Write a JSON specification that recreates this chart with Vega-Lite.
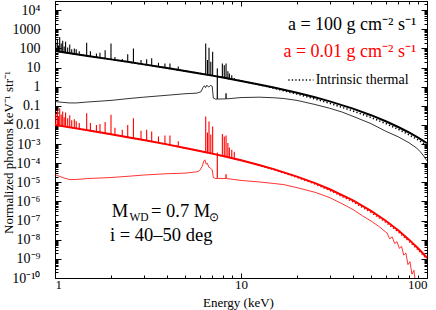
{
  "$schema": "https://vega.github.io/schema/vega-lite/v6.json",
  "width": 372,
  "height": 277,
  "autosize": {"type": "none"},
  "padding": {"left": 55, "top": 1, "right": 9, "bottom": 32},
  "background": "white",
  "config": {
    "view": {"stroke": null},
    "font": "Liberation Serif",
    "axis": {"domainColor": "black", "tickColor": "black", "labelColor": "black", "titleColor": "black", "labelFont": "Liberation Serif", "titleFont": "Liberation Serif", "titleFontWeight": "normal", "grid": false, "domainWidth": 1, "tickWidth": 1}
  },
  "datasets": {
    "cont": [
      {"E":1,"f":72.4,"s":"bt"},{"E":1.25,"f":52.7,"s":"bt"},{"E":1.5,"f":40.6,"s":"bt"},{"E":2,"f":26.7,"s":"bt"},{"E":2.5,"f":19.2,"s":"bt"},{"E":3,"f":14.6,"s":"bt"},{"E":4,"f":9.38,"s":"bt"},{"E":5,"f":6.59,"s":"bt"},{"E":6,"f":4.90,"s":"bt"},{"E":7,"f":3.78,"s":"bt"},{"E":8,"f":3.00,"s":"bt"},{"E":10,"f":2.00,"s":"bt"},{"E":12.5,"f":1.31,"s":"bt"},{"E":15,"f":0.906,"s":"bt"},{"E":20,"f":0.480,"s":"bt"},{"E":25,"f":0.278,"s":"bt"},{"E":30,"f":0.170,"s":"bt"},{"E":40,"f":0.0710,"s":"bt"},{"E":50,"f":0.0323,"s":"bt"},{"E":60,"f":0.0156,"s":"bt"},{"E":70,"f":0.0078,"s":"bt"},{"E":80,"f":0.00402,"s":"bt"},{"E":90,"f":0.00211,"s":"bt"},{"E":100,"f":0.00113,"s":"bt"},
      {"E":1,"f":72.4,"s":"bd"},{"E":1.25,"f":52.7,"s":"bd"},{"E":1.5,"f":40.6,"s":"bd"},{"E":2,"f":26.7,"s":"bd"},{"E":2.5,"f":19.2,"s":"bd"},{"E":3,"f":14.6,"s":"bd"},{"E":4,"f":9.38,"s":"bd"},{"E":5,"f":6.59,"s":"bd"},{"E":6,"f":4.90,"s":"bd"},{"E":7,"f":3.78,"s":"bd"},{"E":8,"f":3.00,"s":"bd"},{"E":10,"f":2.00,"s":"bd"},{"E":12.5,"f":1.25,"s":"bd"},{"E":15,"f":0.826,"s":"bd"},{"E":20,"f":0.408,"s":"bd"},{"E":25,"f":0.226,"s":"bd"},{"E":30,"f":0.135,"s":"bd"},{"E":40,"f":0.0538,"s":"bd"},{"E":50,"f":0.0245,"s":"bd"},{"E":60,"f":0.0118,"s":"bd"},{"E":70,"f":0.00592,"s":"bd"},{"E":80,"f":0.00305,"s":"bd"},{"E":90,"f":0.00160,"s":"bd"},{"E":100,"f":0.000857,"s":"bd"},
      {"E":1,"f":0.166,"s":"bn"},{"E":1.1,"f":0.151,"s":"bn"},{"E":1.2,"f":0.141,"s":"bn"},{"E":1.3,"f":0.141,"s":"bn"},{"E":1.5,"f":0.158,"s":"bn"},{"E":2,"f":0.191,"s":"bn"},{"E":2.5,"f":0.240,"s":"bn"},{"E":3,"f":0.282,"s":"bn"},{"E":4,"f":0.355,"s":"bn"},{"E":5,"f":0.427,"s":"bn"},{"E":5.8,"f":0.46,"s":"bn"},{"E":6.1,"f":0.55,"s":"bn"},{"E":6.25,"f":0.90,"s":"bn"},{"E":6.35,"f":1.12,"s":"bn"},{"E":6.45,"f":0.891,"s":"bn"},{"E":6.55,"f":1.20,"s":"bn"},{"E":6.7,"f":0.955,"s":"bn"},{"E":6.85,"f":1.15,"s":"bn"},{"E":7.0,"f":1.05,"s":"bn"},{"E":7.1,"f":0.251,"s":"bn"},{"E":7.3,"f":0.224,"s":"bn"},{"E":7.44,"f":0.224,"s":"bn"},{"E":7.46,"f":8.91,"s":"bn"},{"E":7.48,"f":0.224,"s":"bn"},{"E":8.0,"f":0.229,"s":"bn"},{"E":8.28,"f":0.229,"s":"bn"},{"E":8.31,"f":0.447,"s":"bn"},{"E":8.34,"f":0.229,"s":"bn"},{"E":10,"f":0.269,"s":"bn"},{"E":12.5,"f":0.282,"s":"bn"},{"E":15,"f":0.263,"s":"bn"},{"E":17,"f":0.240,"s":"bn"},{"E":20,"f":0.191,"s":"bn"},{"E":25,"f":0.117,"s":"bn"},{"E":30,"f":0.0741,"s":"bn"},{"E":35,"f":0.0468,"s":"bn"},{"E":40,"f":0.0282,"s":"bn"},{"E":50,"f":0.0117,"s":"bn"},{"E":60,"f":0.00468,"s":"bn"},{"E":70,"f":0.00240,"s":"bn"},{"E":80,"f":0.00117,"s":"bn"},{"E":88,"f":0.000617,"s":"bn"},{"E":92,"f":0.000398,"s":"bn"},{"E":96,"f":0.000240,"s":"bn"},{"E":100,"f":0.000132,"s":"bn"},
      {"E":1,"f":1.00e-2,"s":"rt"},{"E":1.25,"f":7.01e-3,"s":"rt"},{"E":1.5,"f":5.22e-3,"s":"rt"},{"E":2,"f":3.24e-3,"s":"rt"},{"E":2.5,"f":2.22e-3,"s":"rt"},{"E":3,"f":1.62e-3,"s":"rt"},{"E":4,"f":9.62e-4,"s":"rt"},{"E":5,"f":6.28e-4,"s":"rt"},{"E":6,"f":4.37e-4,"s":"rt"},{"E":7,"f":3.17e-4,"s":"rt"},{"E":8,"f":2.37e-4,"s":"rt"},{"E":10,"f":1.41e-4,"s":"rt"},{"E":12.5,"f":8.05e-5,"s":"rt"},{"E":15,"f":4.88e-5,"s":"rt"},{"E":20,"f":2.00e-5,"s":"rt"},{"E":25,"f":9.06e-6,"s":"rt"},{"E":30,"f":4.36e-6,"s":"rt"},{"E":40,"f":1.13e-6,"s":"rt"},{"E":50,"f":3.22e-7,"s":"rt"},{"E":60,"f":9.77e-8,"s":"rt"},{"E":70,"f":3.10e-8,"s":"rt"},{"E":80,"f":1.01e-8,"s":"rt"},{"E":90,"f":3.37e-9,"s":"rt"},{"E":100,"f":1.15e-9,"s":"rt"},
      {"E":1,"f":1.00e-2,"s":"rd"},{"E":1.25,"f":7.01e-3,"s":"rd"},{"E":1.5,"f":5.22e-3,"s":"rd"},{"E":2,"f":3.24e-3,"s":"rd"},{"E":2.5,"f":2.22e-3,"s":"rd"},{"E":3,"f":1.62e-3,"s":"rd"},{"E":4,"f":9.62e-4,"s":"rd"},{"E":5,"f":6.28e-4,"s":"rd"},{"E":6,"f":4.37e-4,"s":"rd"},{"E":7,"f":3.17e-4,"s":"rd"},{"E":8,"f":2.37e-4,"s":"rd"},{"E":10,"f":1.41e-4,"s":"rd"},{"E":12.5,"f":7.76e-5,"s":"rd"},{"E":15,"f":4.57e-5,"s":"rd"},{"E":20,"f":1.82e-5,"s":"rd"},{"E":25,"f":8.13e-6,"s":"rd"},{"E":30,"f":3.80e-6,"s":"rd"},{"E":40,"f":9.55e-7,"s":"rd"},{"E":50,"f":2.69e-7,"s":"rd"},{"E":60,"f":8.13e-8,"s":"rd"},{"E":70,"f":2.57e-8,"s":"rd"},{"E":80,"f":8.32e-9,"s":"rd"},{"E":90,"f":2.82e-9,"s":"rd"},{"E":100,"f":9.55e-10,"s":"rd"},
      {"E":1,"f":2.51e-5,"s":"rn"},{"E":1.1,"f":1.78e-5,"s":"rn"},{"E":1.2,"f":1.38e-5,"s":"rn"},{"E":1.3,"f":1.41e-5,"s":"rn"},{"E":1.5,"f":1.58e-5,"s":"rn"},{"E":2,"f":1.78e-5,"s":"rn"},{"E":2.5,"f":2.09e-5,"s":"rn"},{"E":3,"f":2.40e-5,"s":"rn"},{"E":4,"f":2.82e-5,"s":"rn"},{"E":5,"f":3.02e-5,"s":"rn"},{"E":5.8,"f":3.55e-5,"s":"rn"},{"E":6.0,"f":4.17e-5,"s":"rn"},{"E":6.2,"f":7.08e-5,"s":"rn"},{"E":6.3,"f":1.26e-4,"s":"rn"},{"E":6.4,"f":1.51e-4,"s":"rn"},{"E":6.5,"f":8.91e-5,"s":"rn"},{"E":6.6,"f":1.00e-4,"s":"rn"},{"E":6.7,"f":6.31e-5,"s":"rn"},{"E":6.85,"f":5.62e-5,"s":"rn"},{"E":7.0,"f":4.47e-5,"s":"rn"},{"E":7.1,"f":1.78e-5,"s":"rn"},{"E":7.3,"f":1.58e-5,"s":"rn"},{"E":7.44,"f":1.58e-5,"s":"rn"},{"E":7.46,"f":3.55e-4,"s":"rn"},{"E":7.48,"f":1.58e-5,"s":"rn"},{"E":8.0,"f":1.58e-5,"s":"rn"},{"E":8.28,"f":1.58e-5,"s":"rn"},{"E":8.31,"f":2.63e-5,"s":"rn"},{"E":8.34,"f":1.58e-5,"s":"rn"},{"E":10,"f":1.26e-5,"s":"rn"},{"E":12.5,"f":1.05e-5,"s":"rn"},{"E":15,"f":8.71e-6,"s":"rn"},{"E":17,"f":7.59e-6,"s":"rn"},{"E":20,"f":5.25e-6,"s":"rn"},{"E":25,"f":3.02e-6,"s":"rn"},{"E":30,"f":1.58e-6,"s":"rn"},{"E":35,"f":7.59e-7,"s":"rn"},{"E":40,"f":3.80e-7,"s":"rn"},{"E":45,"f":1.78e-7,"s":"rn"},{"E":50,"f":9.55e-8,"s":"rn"},{"E":55,"f":5.01e-8,"s":"rn"},{"E":58,"f":3.31e-8,"s":"rn"},{"E":61,"f":2.24e-8,"s":"rn"},{"E":63,"f":1.12e-8,"s":"rn"},{"E":65,"f":1.41e-8,"s":"rn"},{"E":67,"f":6.31e-9,"s":"rn"},{"E":69,"f":7.94e-9,"s":"rn"},{"E":71,"f":3.55e-9,"s":"rn"},{"E":73,"f":4.47e-9,"s":"rn"},{"E":75,"f":1.58e-9,"s":"rn"},{"E":77,"f":2.00e-9,"s":"rn"},{"E":79,"f":5.01e-10,"s":"rn"},{"E":81,"f":7.08e-10,"s":"rn"},{"E":83,"f":1.58e-10,"s":"rn"},{"E":85,"f":2.51e-10,"s":"rn"},{"E":87,"f":5.01e-11,"s":"rn"},{"E":90,"f":1.58e-11,"s":"rn"}
    ],
    "spikes": [
      {"E":1.01,"lo":71.4,"hi":200,"c":"b"},{"E":1.03,"lo":69.5,"hi":282,"c":"b"},{"E":1.045,"lo":68.1,"hi":141,"c":"b"},{"E":1.06,"lo":66.7,"hi":398,"c":"b"},{"E":1.08,"lo":65.0,"hi":178,"c":"b"},{"E":1.10,"lo":63.2,"hi":251,"c":"b"},{"E":1.12,"lo":61.7,"hi":126,"c":"b"},{"E":1.14,"lo":60.1,"hi":224,"c":"b"},{"E":1.17,"lo":57.9,"hi":112,"c":"b"},{"E":1.20,"lo":55.8,"hi":158,"c":"b"},{"E":1.23,"lo":54.0,"hi":89,"c":"b"},{"E":1.27,"lo":51.5,"hi":100,"c":"b"},{"E":1.30,"lo":49.9,"hi":89,"c":"b"},{"E":1.35,"lo":47.2,"hi":71,"c":"b"},{"E":1.48,"lo":41.4,"hi":195,"c":"b"},{"E":1.55,"lo":38.7,"hi":71,"c":"b"},{"E":1.67,"lo":34.8,"hi":54,"c":"b"},{"E":1.745,"lo":32.6,"hi":60,"c":"b"},{"E":1.86,"lo":29.7,"hi":81,"c":"b"},{"E":2.0,"lo":26.7,"hi":182,"c":"b"},{"E":2.1,"lo":24.9,"hi":35.5,"c":"b"},{"E":2.3,"lo":21.7,"hi":28.2,"c":"b"},{"E":2.46,"lo":19.7,"hi":50,"c":"b"},{"E":2.64,"lo":17.7,"hi":100,"c":"b"},{"E":2.9,"lo":15.4,"hi":24.5,"c":"b"},{"E":3.11,"lo":13.8,"hi":26.9,"c":"b"},{"E":3.31,"lo":12.6,"hi":30.2,"c":"b"},{"E":3.6,"lo":11.1,"hi":17.8,"c":"b"},{"E":3.9,"lo":9.77,"hi":16.2,"c":"b"},{"E":4.15,"lo":8.87,"hi":16.2,"c":"b"},{"E":4.6,"lo":7.53,"hi":11.2,"c":"b"},{"E":6.46,"lo":4.33,"hi":182,"c":"b"},{"E":6.60,"lo":4.17,"hi":25.1,"c":"b"},{"E":6.73,"lo":4.04,"hi":107,"c":"b"},{"E":6.88,"lo":3.89,"hi":20,"c":"b"},{"E":7.04,"lo":3.74,"hi":66,"c":"b"},{"E":7.94,"lo":3.03,"hi":16.2,"c":"b"},{"E":8.13,"lo":2.92,"hi":13.2,"c":"b"},{"E":8.31,"lo":2.81,"hi":16.2,"c":"b"},{"E":8.50,"lo":2.69,"hi":6.3,"c":"b"},{"E":8.66,"lo":2.61,"hi":4.9,"c":"b"},{"E":8.92,"lo":2.47,"hi":4.0,"c":"b"},{"E":9.2,"lo":2.33,"hi":2.8,"c":"b"},
      {"E":1.01,"lo":9.84e-3,"hi":3.98e-2,"c":"r"},{"E":1.03,"lo":9.55e-3,"hi":5.62e-2,"c":"r"},{"E":1.045,"lo":9.33e-3,"hi":2.82e-2,"c":"r"},{"E":1.06,"lo":9.12e-3,"hi":7.41e-2,"c":"r"},{"E":1.08,"lo":8.85e-3,"hi":3.55e-2,"c":"r"},{"E":1.10,"lo":8.59e-3,"hi":5.01e-2,"c":"r"},{"E":1.12,"lo":8.36e-3,"hi":2.51e-2,"c":"r"},{"E":1.14,"lo":8.13e-3,"hi":4.47e-2,"c":"r"},{"E":1.17,"lo":7.80e-3,"hi":2.24e-2,"c":"r"},{"E":1.20,"lo":7.48e-3,"hi":3.16e-2,"c":"r"},{"E":1.23,"lo":7.19e-3,"hi":1.78e-2,"c":"r"},{"E":1.27,"lo":6.83e-3,"hi":2.00e-2,"c":"r"},{"E":1.30,"lo":6.58e-3,"hi":1.58e-2,"c":"r"},{"E":1.35,"lo":6.19e-3,"hi":1.26e-2,"c":"r"},{"E":1.48,"lo":5.33e-3,"hi":4.07e-2,"c":"r"},{"E":1.55,"lo":4.94e-3,"hi":1.26e-2,"c":"r"},{"E":1.67,"lo":4.38e-3,"hi":1.00e-2,"c":"r"},{"E":1.745,"lo":4.07e-3,"hi":1.12e-2,"c":"r"},{"E":1.86,"lo":3.66e-3,"hi":1.41e-2,"c":"r"},{"E":2.0,"lo":3.24e-3,"hi":3.39e-2,"c":"r"},{"E":2.1,"lo":2.99e-3,"hi":7.08e-3,"c":"r"},{"E":2.3,"lo":2.56e-3,"hi":5.62e-3,"c":"r"},{"E":2.46,"lo":2.29e-3,"hi":1.00e-2,"c":"r"},{"E":2.64,"lo":2.02e-3,"hi":2.24e-2,"c":"r"},{"E":2.9,"lo":1.72e-3,"hi":5.01e-3,"c":"r"},{"E":3.11,"lo":1.52e-3,"hi":5.62e-3,"c":"r"},{"E":3.31,"lo":1.36e-3,"hi":4.57e-3,"c":"r"},{"E":3.6,"lo":1.17e-3,"hi":2.51e-3,"c":"r"},{"E":3.9,"lo":1.01e-3,"hi":2.82e-3,"c":"r"},{"E":4.15,"lo":8.97e-4,"hi":2.82e-3,"c":"r"},{"E":4.6,"lo":7.38e-4,"hi":1.41e-3,"c":"r"},{"E":6.46,"lo":3.75e-4,"hi":2.75e-2,"c":"r"},{"E":6.60,"lo":3.59e-4,"hi":3.98e-3,"c":"r"},{"E":6.73,"lo":3.44e-4,"hi":1.51e-2,"c":"r"},{"E":6.88,"lo":3.29e-4,"hi":3.16e-3,"c":"r"},{"E":7.04,"lo":3.13e-4,"hi":8.32e-3,"c":"r"},{"E":7.94,"lo":2.41e-4,"hi":3.31e-3,"c":"r"},{"E":8.13,"lo":2.29e-4,"hi":2.51e-3,"c":"r"},{"E":8.31,"lo":2.17e-4,"hi":2.82e-3,"c":"r"},{"E":8.50,"lo":2.07e-4,"hi":1.12e-3,"c":"r"},{"E":8.66,"lo":1.98e-4,"hi":6.61e-4,"c":"r"},{"E":8.92,"lo":1.85e-4,"hi":5.01e-4,"c":"r"},{"E":9.2,"lo":1.72e-4,"hi":3.98e-4,"c":"r"}
    ]
  },
  "resolve": {"axis": {"x": "independent", "y": "independent"}},
  "layer": [
    {
      "data": {"name": "cont"},
      "transform": [{"filter": "datum.s === 'bn'"}],
      "mark": {"type": "line", "color": "black", "strokeWidth": 0.8, "clip": true},
      "encoding": {
        "x": {"field": "E", "type": "quantitative", "scale": {"type": "log", "domain": [1, 100], "nice": false}, "axis": {"orient": "top", "values": [1, 10, 100], "labels": false, "tickSize": -5, "title": null}},
        "y": {"field": "f", "type": "quantitative", "scale": {"type": "log", "domain": [1e-10, 30000], "nice": false}, "axis": {"orient": "right", "values": [1e-10,1e-9,1e-8,1e-7,1e-6,1e-5,1e-4,1e-3,0.01,0.1,1,10,100,1000,10000], "labels": false, "tickSize": -6, "title": null}}
      }
    },
    {
      "data": {"name": "cont"},
      "transform": [{"filter": "datum.s === 'rn'"}],
      "mark": {"type": "line", "color": "#ff0000", "strokeWidth": 0.8, "clip": true},
      "encoding": {
        "x": {"field": "E", "type": "quantitative", "scale": {"type": "log", "domain": [1, 100], "nice": false}, "axis": {"orient": "top", "values": [2,3,4,5,6,7,8,9,20,30,40,50,60,70,80,90], "labels": false, "tickSize": -3, "title": null}},
        "y": {"field": "f", "type": "quantitative", "scale": {"type": "log", "domain": [1e-10, 30000], "nice": false}, "axis": {"orient": "right", "tickCount": 100, "labels": false, "tickSize": -3, "title": null}}
      }
    },
    {
      "data": {"name": "cont"},
      "transform": [{"filter": "datum.s === 'bd'"}],
      "mark": {"type": "line", "color": "black", "strokeWidth": 1.5, "strokeDash": [1.3, 2.2], "clip": true},
      "encoding": {
        "x": {"field": "E", "type": "quantitative", "scale": {"type": "log", "domain": [1, 100], "nice": false}, "axis": null},
        "y": {"field": "f", "type": "quantitative", "scale": {"type": "log", "domain": [1e-10, 30000], "nice": false}, "axis": null}
      }
    },
    {
      "data": {"name": "cont"},
      "transform": [{"filter": "datum.s === 'rd'"}],
      "mark": {"type": "line", "color": "#ff0000", "strokeWidth": 1.5, "strokeDash": [1.3, 2.2], "clip": true},
      "encoding": {
        "x": {"field": "E", "type": "quantitative", "scale": {"type": "log", "domain": [1, 100], "nice": false}, "axis": null},
        "y": {"field": "f", "type": "quantitative", "scale": {"type": "log", "domain": [1e-10, 30000], "nice": false}, "axis": null}
      }
    },
    {
      "data": {"name": "cont"},
      "transform": [{"filter": "datum.s === 'rt'"}],
      "mark": {"type": "line", "color": "#ff0000", "strokeWidth": 2, "clip": true},
      "encoding": {
        "x": {"field": "E", "type": "quantitative", "scale": {"type": "log", "domain": [1, 100], "nice": false}, "axis": {"orient": "bottom", "values": [2,3,4,5,6,7,8,9,20,30,40,50,60,70,80,90], "labels": false, "tickSize": -3, "title": null}},
        "y": {"field": "f", "type": "quantitative", "scale": {"type": "log", "domain": [1e-10, 30000], "nice": false}, "axis": {"orient": "left", "tickCount": 100, "labels": false, "tickSize": -3, "title": null}}
      }
    },
    {
      "data": {"name": "cont"},
      "transform": [{"filter": "datum.s === 'bt'"}],
      "mark": {"type": "line", "color": "black", "strokeWidth": 2, "clip": true},
      "encoding": {
        "x": {"field": "E", "type": "quantitative", "scale": {"type": "log", "domain": [1, 100], "nice": false}, "axis": {"orient": "bottom", "values": [1, 10, 100], "labelExpr": "datum.value + ''", "labelFont": "Liberation Serif", "labelFontSize": 13, "labelPadding": 5, "tickSize": -5, "title": "Energy (keV)", "titleFont": "Liberation Serif", "titleFontSize": 13, "titleFontWeight": "normal", "titleX": 183, "titleY": 28, "titleBaseline": "alphabetic", "titleAlign": "center"}},
        "y": {"field": "f", "type": "quantitative", "scale": {"type": "log", "domain": [1e-10, 30000], "nice": false}, "axis": {"orient": "left", "values": [1e-10,1e-9,1e-8,1e-7,1e-6,1e-5,1e-4,1e-3,0.01,0.1,1,10,100,1000,10000], "labelExpr": "['10⁻¹⁰','10⁻⁹','10⁻⁸','10⁻⁷','10⁻⁶','10⁻⁵','10⁻⁴','10⁻³','0.01','0.1','1','10','100','1000','10⁴'][round(log(datum.value)/LN10)+10]", "labelFont": "Liberation Serif", "labelFontSize": 14, "labelPadding": 21, "labelOverlap": false, "labelBaseline": "middle", "tickSize": -6, "title": "Normalized photons keV⁻¹ str⁻¹", "titleFont": "Liberation Serif", "titleFontSize": 13, "titleFontWeight": "normal", "titleX": -43, "titleY": 151, "titleAngle": -90, "titleAlign": "center", "titleBaseline": "alphabetic"}}
      }
    },
    {
      "data": {"name": "spikes"},
      "mark": {"type": "rule", "strokeWidth": 1.1, "clip": true},
      "encoding": {
        "x": {"field": "E", "type": "quantitative", "scale": {"type": "log", "domain": [1, 100], "nice": false}, "axis": null},
        "y": {"field": "hi", "type": "quantitative", "scale": {"type": "log", "domain": [1e-10, 30000], "nice": false}, "axis": null},
        "y2": {"field": "lo"},
        "color": {"field": "c", "type": "nominal", "scale": {"domain": ["b", "r"], "range": ["black", "#ff0000"]}, "legend": null}
      }
    },
    {
      "data": {"values": [{"E": 17.96, "f": 2.22}, {"E": 24.5, "f": 2.22}]},
      "mark": {"type": "line", "color": "black", "strokeWidth": 1.5, "strokeDash": [1.3, 2.2]},
      "encoding": {
        "x": {"field": "E", "type": "quantitative", "scale": {"type": "log", "domain": [1, 100], "nice": false}, "axis": null},
        "y": {"field": "f", "type": "quantitative", "scale": {"type": "log", "domain": [1e-10, 30000], "nice": false}, "axis": null}
      }
    },
    {
      "data": {"values": [{"E": 87.7, "f": 970, "t": "a = 100 g cm⁻² s⁻¹"}]},
      "mark": {"type": "text", "font": "Liberation Serif", "fontSize": 18, "align": "right", "baseline": "alphabetic", "color": "black"},
      "encoding": {
        "x": {"field": "E", "type": "quantitative", "scale": {"type": "log", "domain": [1, 100], "nice": false}, "axis": null},
        "y": {"field": "f", "type": "quantitative", "scale": {"type": "log", "domain": [1e-10, 30000], "nice": false}, "axis": null},
        "text": {"field": "t"}
      }
    },
    {
      "data": {"values": [{"E": 87.7, "f": 34.2, "t": "a = 0.01 g cm⁻² s⁻¹"}]},
      "mark": {"type": "text", "font": "Liberation Serif", "fontSize": 18, "align": "right", "baseline": "alphabetic", "color": "#ff0000"},
      "encoding": {
        "x": {"field": "E", "type": "quantitative", "scale": {"type": "log", "domain": [1, 100], "nice": false}, "axis": null},
        "y": {"field": "f", "type": "quantitative", "scale": {"type": "log", "domain": [1e-10, 30000], "nice": false}, "axis": null},
        "text": {"field": "t"}
      }
    },
    {
      "data": {"values": [{"E": 25.2, "f": 1.37, "t": "Intrinsic thermal"}]},
      "mark": {"type": "text", "font": "Liberation Serif", "fontSize": 14, "align": "left", "baseline": "alphabetic", "color": "black"},
      "encoding": {
        "x": {"field": "E", "type": "quantitative", "scale": {"type": "log", "domain": [1, 100], "nice": false}, "axis": null},
        "y": {"field": "f", "type": "quantitative", "scale": {"type": "log", "domain": [1e-10, 30000], "nice": false}, "axis": null},
        "text": {"field": "t"}
      }
    },
    {
      "data": {"values": [{"E": 2.02, "f": 1.53e-7, "t": "M"}, {"E": 3.28, "f": 1.53e-7, "t": "= 0.7 M"}, {"E": 1.976, "f": 8.53e-9, "t": "i = 40–50 deg"}]},
      "mark": {"type": "text", "font": "Liberation Serif", "fontSize": 18.5, "align": "left", "baseline": "alphabetic", "color": "black"},
      "encoding": {
        "x": {"field": "E", "type": "quantitative", "scale": {"type": "log", "domain": [1, 100], "nice": false}, "axis": null},
        "y": {"field": "f", "type": "quantitative", "scale": {"type": "log", "domain": [1e-10, 30000], "nice": false}, "axis": null},
        "text": {"field": "t"}
      }
    },
    {
      "data": {"values": [{"E": 2.515, "f": 9.48e-8, "t": "WD"}, {"E": 6.72, "f": 9.48e-8, "t": "⊙"}]},
      "mark": {"type": "text", "font": "Liberation Serif", "fontSize": 11.5, "align": "left", "baseline": "alphabetic", "color": "black"},
      "encoding": {
        "x": {"field": "E", "type": "quantitative", "scale": {"type": "log", "domain": [1, 100], "nice": false}, "axis": null},
        "y": {"field": "f", "type": "quantitative", "scale": {"type": "log", "domain": [1e-10, 30000], "nice": false}, "axis": null},
        "text": {"field": "t"}
      }
    }
  ]
}
